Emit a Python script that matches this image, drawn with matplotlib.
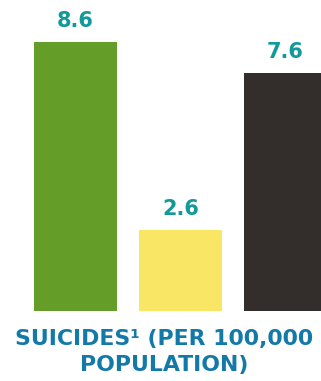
import matplotlib
matplotlib.use("Agg")
import matplotlib.pyplot as plt

categories = ["A", "B", "C"]
values = [8.6, 2.6, 7.6]
labels = ["8.6", "2.6", "7.6"]
colors = ["#649d28", "#f9e664", "#332e2b"]
title = "SUICIDES\u00b9 (PER 100,000\nPOPULATION)"

fig = plt.figure(figsize=(3.21, 3.81), dpi=100)
ax = fig.add_axes([0, 70 / 381, 1, 311 / 381])

x = list(range(len(values)))
bars = ax.bar(x, values, width=0.79, color=colors)
for xi, v, lab in zip(x, values, labels):
    ax.annotate(lab, (xi, v), xytext=(0, 8), textcoords="offset points",
                ha="center", va="bottom", color="#12999a",
                fontsize=15, fontweight="bold")

ax.set_xlim(-0.719, 2.338)
ax.set_ylim(0, 9.94)
ax.axis("off")

fig.text(164.5 / 321, 1 - 352 / 381, title, ha="center", va="center",
         color="#1279a9", fontsize=15.8, fontweight="bold",
         linespacing=1.33)

fig.savefig("out.png", dpi=100)
